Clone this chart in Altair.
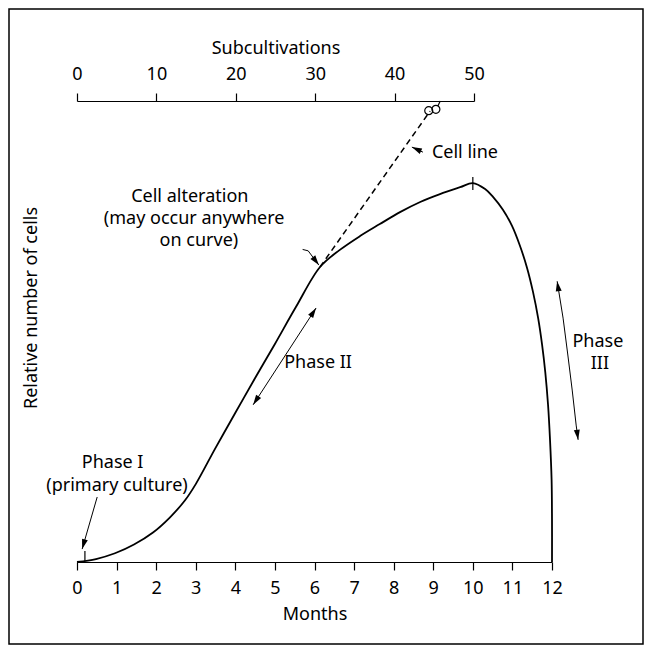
import math
import altair as alt
import pandas as pd

FONT = "Noto Sans"
FS = 18
W, H = 475, 461

# ---- data ----------------------------------------------------------------
# growth curve: months vs relative number of cells (arbitrary 0-100 units)
curve_months = [0, 0.48, 0.96, 1.44, 1.92, 2.35, 2.73, 3.00, 3.49, 3.99, 4.50,
                5.00, 5.53, 6.14, 6.64, 7.15, 7.65, 8.16, 8.67, 9.17,
                9.68, 10.0, 10.31, 10.51, 10.76, 10.99, 11.19, 11.37, 11.52,
                11.65, 11.75, 11.83, 11.90, 11.95, 11.99, 12.0, 12.0]
curve_cells = [0, 0.65, 1.9, 3.8, 6.4, 9.7, 13.4, 16.9, 24.6, 32.2, 39.9,
               47.3, 55.3, 64.0, 67.7, 70.7, 73.3, 75.9, 78.1, 79.8,
               81.3, 82.2, 80.9, 79.2, 76.4, 72.9, 68.6, 63.8, 58.6,
               52.9, 47.1, 41.2, 34.1, 26.5, 17.8, 9.1, 0]

# cell line (dashed) from the alteration point towards subcultivation ~45
cellline_months = [6.14, 8.92]
cellline_cells = [64.0, 97.8]

# markers on the curve (start and peak)
marker_months = [0.2, 10.0]
marker_lo = [0.2, 80.7]
marker_hi = [2.4, 83.5]

# symbol near subcultivation 45
symbol_sub = [44.3, 45.2]
symbol_cells = [97.9, 98.2]
symbol_stem_sub = [45.45, 45.75]
symbol_stem_cells = [98.9, 100.0]

month_ticks = list(range(13))
sub_ticks = [0, 10, 20, 30, 40, 50]

# annotation arrows: (months, cells, heads)
arrows = [
    ([0.51, 0.13], [14.1, 2.8], "end"),                       # Phase I
    ([8.74, 8.46], [88.9, 90.0], "end"),                      # Cell line
    ([5.70, 5.84, 6.11], [67.8, 67.5, 64.4], "end"),          # Cell alteration
    ([4.45, 6.04], [34.1, 55.1], "both"),                     # Phase II
    ([12.13, 12.28, 12.40, 12.51, 12.61, 12.66],
     [60.9, 52.9, 44.9, 37.3, 29.7, 26.5], "both"),           # Phase III
]

labels_text = ["Phase I", "(primary culture)", "Cell alteration",
               "(may occur anywhere", "on curve)", "Phase II", "Phase", "III",
               "Cell line"]
labels_months = [0.90, 1.01, 2.85, 2.96, 3.08, 6.09, 13.16, 13.21, 9.80]
labels_cells = [21.5, 16.5, 79.2, 74.4, 69.6, 43.2, 47.7, 43.0, 88.7]

# ---- tables ----------------------------------------------------------------
curve_df = pd.DataFrame({"m": curve_months, "u": curve_cells,
                         "o": list(range(len(curve_months)))})
cell_df = pd.DataFrame({"m": cellline_months, "u": cellline_cells,
                        "o": [0, 1]})
marker_df = pd.DataFrame({"m": marker_months, "u": marker_lo, "u2": marker_hi})
label_df = pd.DataFrame({"m": labels_months, "u": labels_cells,
                         "t": labels_text})

kx, ky = W / 12.0, H / 100.0
rows, heads = [], []
for gi, (ms, us, kind) in enumerate(arrows):
    for oi, (m, u) in enumerate(zip(ms, us)):
        rows.append({"g": gi, "o": oi, "m": m, "u": u})
    ends = [(len(ms) - 1, len(ms) - 2)]
    if kind == "both":
        ends.append((0, 1))
    for a, b in ends:
        dx = (ms[a] - ms[b]) * kx
        dy = -(us[a] - us[b]) * ky
        ang = math.degrees(math.atan2(dx, -dy)) % 360
        heads.append({"m": ms[a], "u": us[a], "ang": ang})
arrow_df = pd.DataFrame(rows)
head_df = pd.DataFrame(heads)

# ---- encodings ---------------------------------------------------------------
axis_style = dict(grid=False, domainColor="black", tickColor="black",
                  labelColor="black", titleColor="black", labelFont=FONT,
                  labelFontSize=FS, titleFont=FONT, titleFontSize=FS,
                  titleFontWeight="normal", labelFlush=False,
                  labelOverlap=False, tickSize=8, domainWidth=1.2,
                  tickWidth=1.2, format="d")

X = alt.X("m:Q", scale=alt.Scale(domain=[0, 12], nice=False, zero=False),
          axis=alt.Axis(values=month_ticks, title="Months", orient="bottom",
                        labelPadding=9, titlePadding=8, **axis_style))
Y = alt.Y("u:Q", scale=alt.Scale(domain=[0, 100], nice=False, zero=False),
          axis=None)

frame = alt.Chart(pd.DataFrame({"k": [0]})).mark_rect(
    fillOpacity=0, stroke="black", strokeWidth=1.5).encode(
    x=alt.value(-68), x2=alt.value(566), y=alt.value(-92), y2=alt.value(543))

curve = alt.Chart(curve_df).mark_line(
    color="black", strokeWidth=1.8, interpolate="catmull-rom").encode(
    x=X, y=Y, order="o:Q")

cell_line = alt.Chart(cell_df).mark_line(
    color="black", strokeWidth=1.5, strokeDash=[6, 4]).encode(
    x=X, y=Y, order="o:Q")

markers = alt.Chart(marker_df).mark_rule(color="black", strokeWidth=1.2).encode(
    x=X, y=Y, y2="u2:Q")

arrow_lines = alt.Chart(arrow_df).mark_line(
    color="black", strokeWidth=1.0).encode(
    x=X, y=Y, detail="g:N", order="o:Q")

arrow_heads = alt.Chart(head_df).mark_point(
    shape="M0,0L0.6,2L-0.6,2Z", filled=True, color="black", opacity=1,
    size=100, strokeWidth=0).encode(
    x=X, y=Y, angle=alt.Angle("ang:Q", scale=None))

texts = alt.Chart(label_df).mark_text(
    font=FONT, fontSize=FS, color="black", align="center",
    baseline="middle").encode(x=X, y=Y, text="t:N")

ytitle = alt.Chart(pd.DataFrame({"m": [-1.14], "u": [55.1],
                                 "t": ["Relative number of cells"]})).mark_text(
    font=FONT, fontSize=FS, color="black", angle=270, align="center",
    baseline="middle").encode(x=X, y=Y, text="t:N")

month_layer = alt.layer(frame, curve, cell_line, markers, arrow_lines,
                        arrow_heads, texts, ytitle)

XS = alt.X("s:Q", scale=alt.Scale(domain=[0, 50], range=[0, 397], nice=False,
                                  zero=False),
           axis=alt.Axis(values=sub_ticks, title="Subcultivations",
                         orient="top", labelPadding=10, titlePadding=8,
                         **axis_style))

sym = alt.Chart(pd.DataFrame({"s": symbol_sub, "u": symbol_cells})).mark_point(
    shape="circle", filled=False, color="black", size=64, strokeWidth=1.2,
    opacity=1).encode(x=XS, y=Y)
stem = alt.Chart(pd.DataFrame({"s": symbol_stem_sub, "u": symbol_stem_cells,
                               "o": [0, 1]})).mark_line(
    color="black", strokeWidth=1.2).encode(x=XS, y=Y, order="o:Q")

top_layer = alt.layer(sym, stem)

chart = alt.layer(month_layer, top_layer).resolve_scale(
    x="independent").properties(
    width=W, height=H, autosize=alt.AutoSizeParams(type="none"),
    padding={"left": 69, "top": 93, "right": 92, "bottom": 83},
    background="white").configure_view(stroke=None)

chart.save("out.html", embed_options={"renderer": "svg", "actions": False})
